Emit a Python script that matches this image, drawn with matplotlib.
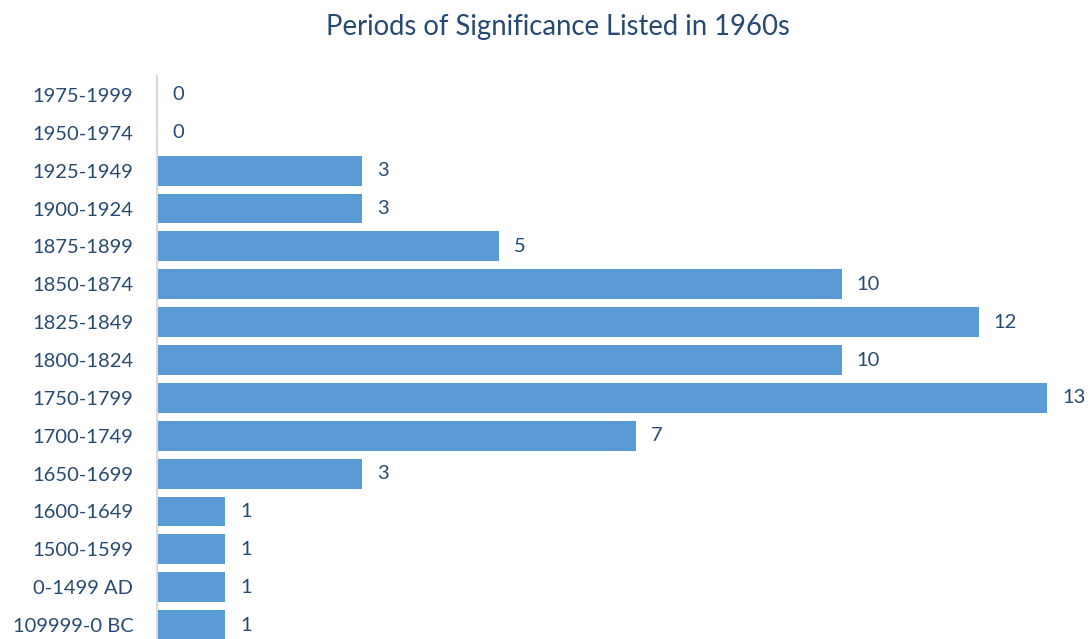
import numpy as np
import matplotlib.pyplot as plt

"data"
periods = ["109999-0 BC", "0-1499 AD", "1500-1599", "1600-1649", "1650-1699",
           "1700-1749", "1750-1799", "1800-1824", "1825-1849", "1850-1874",
           "1875-1899", "1900-1924", "1925-1949", "1950-1974", "1975-1999"]
counts = [1, 1, 1, 1, 3, 7, 13, 10, 12, 10, 5, 3, 3, 0, 0]

plt.rcParams['font.family'] = ['Lato', 'DejaVu Sans']
text_col = "#264A73"
bar_col = "#5B9BD5"

fig = plt.figure(figsize=(10.91, 6.39), dpi=100)
ax = fig.add_axes([157/1091, -5/639, 890/1091, 568/639])

y = np.arange(len(periods))
ax.barh(y, counts, height=0.79, color=bar_col)
ax.set_xlim(0, 13)
ax.set_ylim(-0.5, len(periods) - 0.5)

for yi, c in zip(y, counts):
    ax.text(c + 0.22, yi, str(c), va="center", ha="left", fontsize=14.5, color=text_col)

ax.set_yticks(y)
ax.set_yticklabels(periods, fontsize=14.5, color=text_col)
ax.tick_params(axis="y", length=0, pad=17)
ax.set_xticks([])
for s in ["top", "right", "bottom"]:
    ax.spines[s].set_visible(False)
ax.spines["left"].set_color("#D9D9D9")
ax.spines["left"].set_linewidth(1.5)

fig.text(0.511, 0.958, "Periods of Significance Listed in 1960s", ha="center", va="center",
         fontsize=19.8, color=text_col)

fig.savefig("out.png", dpi=100)
